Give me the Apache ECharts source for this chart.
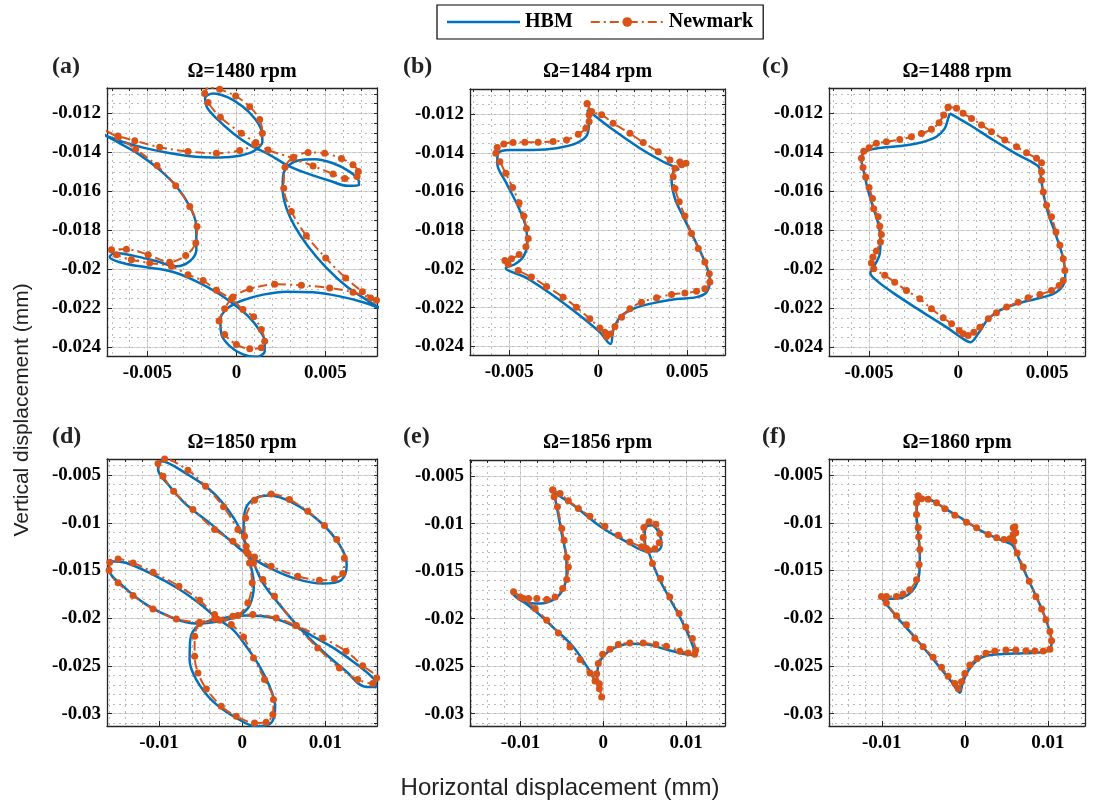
<!DOCTYPE html>
<html><head><meta charset="utf-8">
<script src="https://cdn.jsdelivr.net/npm/echarts@6/dist/echarts.min.js"></script>
<style>html,body{margin:0;padding:0;background:#fff}#c{width:1095px;height:807px}</style>
</head><body><div id="c"></div>
<script>
// ---------------- DATA (mm) ----------------
const panelTitles = ['Ω=1480 rpm','Ω=1484 rpm','Ω=1488 rpm','Ω=1850 rpm','Ω=1856 rpm','Ω=1860 rpm'];
const panelLetters = ['(a)','(b)','(c)','(d)','(e)','(f)'];
const seriesNames = ['HBM','Newmark'];

const xTicksTop = [-0.005, 0, 0.005];
const yTicksTop = [-0.024, -0.022, -0.02, -0.018, -0.016, -0.014, -0.012];
const xTicksBottom = [-0.01, 0, 0.01];
const yTicksBottom = [-0.03, -0.025, -0.02, -0.015, -0.01, -0.005];

const xLimits = [[-0.00727,0.0079],[-0.0072,0.00712],[-0.00725,0.00712],[-0.01625,0.0162],[-0.0161,0.0147],[-0.01635,0.01446]];
const yLimits = [[-0.02445,-0.0107],[-0.02445,-0.0107],[-0.02445,-0.0107],[-0.0313,-0.0033],[-0.0313,-0.0033],[-0.0313,-0.0033]];

const hbmA = [[-0.00749,-0.01308],[-0.00655,-0.01342],[-0.00524,-0.01376],[-0.00393,-0.01401],[-0.00243,-0.01422],[-0.00094,-0.01427],[0.00019,-0.01418],[0.00103,-0.01391],[0.00146,-0.01345],[0.0014,-0.01285],[0.00103,-0.01226],[0.00037,-0.01166],[-0.00047,-0.01118],[-0.00131,-0.01098],[-0.00176,-0.01123],[-0.00165,-0.01169],[-0.00112,-0.01226],[-0.00019,-0.01302],[0.00075,-0.01362],[0.00187,-0.01413],[0.00281,-0.01464],[0.00393,-0.01507],[0.00524,-0.01546],[0.00627,-0.01572],[0.00689,-0.01569],[0.00684,-0.01538],[0.00627,-0.01494],[0.00543,-0.01456],[0.0044,-0.01435],[0.00346,-0.01442],[0.00287,-0.01473],[0.00262,-0.01524],[0.0026,-0.01592],[0.00281,-0.01686],[0.00328,-0.0178],[0.00403,-0.01883],[0.00506,-0.01993],[0.00618,-0.02087],[0.0073,-0.02156],[0.00815,-0.02203],[0.00712,-0.02169],[0.00581,-0.02139],[0.00431,-0.02118],[0.00281,-0.02115],[0.0015,-0.0213],[0.00037,-0.02159],[-0.00047,-0.02198],[-0.0009,-0.02258],[-0.00084,-0.02335],[-0.00037,-0.02394],[0.00037,-0.02437],[0.00112,-0.02449],[0.00159,-0.0242],[0.00159,-0.02369],[0.00127,-0.02309],[0.00075,-0.02249],[0,-0.0219],[-0.00112,-0.02118],[-0.00225,-0.02062],[-0.00337,-0.02019],[-0.00431,-0.01999],[-0.00543,-0.01985],[-0.00655,-0.01964],[-0.00712,-0.01937],[-0.00684,-0.01917],[-0.00581,-0.0193],[-0.00449,-0.01959],[-0.00337,-0.01985],[-0.00262,-0.01959],[-0.00225,-0.019],[-0.00225,-0.01831],[-0.00228,-0.01763],[-0.00262,-0.01678],[-0.00333,-0.01579],[-0.00431,-0.0149],[-0.00543,-0.01413],[-0.00655,-0.01354],[-0.00749,-0.01308]];
const newmarkA = [[-0.00745,-0.01285],[-0.00665,-0.01316],[-0.00571,-0.0134],[-0.00431,-0.01374],[-0.00272,-0.01396],[-0.00112,-0.01405],[0.00019,-0.01391],[0.00103,-0.01359],[0.00146,-0.01302],[0.00131,-0.01231],[0.00075,-0.01166],[-0.00004,-0.01111],[-0.00094,-0.01077],[-0.00154,-0.01067],[-0.00178,-0.01098],[-0.00159,-0.01145],[-0.0009,-0.0122],[0.00028,-0.01302],[0.00109,-0.0135],[0.00178,-0.01388],[0.00318,-0.0143],[0.00431,-0.0147],[0.00543,-0.01511],[0.00609,-0.01534],[0.00678,-0.01524],[0.00685,-0.01499],[0.00655,-0.01464],[0.0059,-0.01432],[0.00496,-0.01405],[0.00403,-0.01401],[0.00322,-0.01425],[0.00273,-0.01476],[0.00266,-0.01584],[0.00309,-0.01703],[0.00393,-0.01828],[0.00502,-0.01942],[0.00614,-0.02045],[0.00708,-0.02115],[0.00787,-0.02159],[0.00815,-0.02169],[0.00754,-0.02147],[0.00655,-0.02118],[0.00524,-0.02096],[0.00365,-0.02082],[0.00215,-0.02077],[0.00075,-0.02101],[-0.00019,-0.02142],[-0.00066,-0.02203],[-0.00097,-0.02266],[-0.00066,-0.02335],[0,-0.02386],[0.00075,-0.02408],[0.0014,-0.02403],[0.00159,-0.02369],[0.0014,-0.02309],[0.00097,-0.02244],[0.00037,-0.02207],[-0.00028,-0.02152],[-0.00112,-0.02108],[-0.00187,-0.02058],[-0.00272,-0.02028],[-0.00365,-0.01985],[-0.00487,-0.01968],[-0.0059,-0.01951],[-0.00674,-0.01925],[-0.00702,-0.019],[-0.00618,-0.01897],[-0.00496,-0.01925],[-0.00375,-0.01964],[-0.00285,-0.0193],[-0.00228,-0.01865],[-0.00221,-0.0178],[-0.00262,-0.01678],[-0.00341,-0.01572],[-0.00446,-0.01468],[-0.00566,-0.01384],[-0.00665,-0.01323],[-0.00745,-0.01285]];

const hbmB = [[-0.00037,-0.01195],[0.00084,-0.01281],[0.00234,-0.01376],[0.00365,-0.01446],[0.00436,-0.01475],[0.00451,-0.01485],[0.00425,-0.01492],[0.00412,-0.01541],[0.00431,-0.01636],[0.00478,-0.01731],[0.00543,-0.01852],[0.00599,-0.01964],[0.00627,-0.02059],[0.00609,-0.0212],[0.00552,-0.02146],[0.0044,-0.02156],[0.00309,-0.02177],[0.00197,-0.02206],[0.00122,-0.0225],[0.00084,-0.02319],[0.00069,-0.02388],[0.00009,-0.02327],[-0.00103,-0.02241],[-0.00253,-0.02137],[-0.00403,-0.02046],[-0.00519,-0.01995],[-0.00468,-0.01976],[-0.00421,-0.01938],[-0.00399,-0.01869],[-0.00406,-0.01783],[-0.00449,-0.01679],[-0.00515,-0.01558],[-0.00567,-0.01454],[-0.00562,-0.01402],[-0.00496,-0.01385],[-0.00365,-0.01385],[-0.00234,-0.01376],[-0.00122,-0.0135],[-0.00062,-0.01307],[-0.00051,-0.01229],[-0.0006,-0.01178],[-0.00037,-0.01195]];
const newmarkB = [[-0.00062,-0.01146],[-0.00037,-0.01186],[0.00019,-0.01203],[0.00084,-0.01247],[0.00178,-0.01299],[0.00253,-0.01347],[0.00337,-0.01394],[0.00403,-0.01437],[0.00459,-0.01447],[0.00493,-0.01454],[0.00468,-0.01461],[0.00431,-0.0148],[0.00421,-0.01523],[0.00431,-0.01584],[0.00455,-0.01653],[0.00487,-0.01727],[0.00524,-0.01817],[0.00562,-0.01895],[0.00599,-0.01964],[0.00624,-0.02025],[0.00627,-0.02068],[0.00599,-0.02103],[0.00552,-0.02116],[0.00487,-0.02125],[0.00412,-0.02132],[0.00328,-0.02149],[0.00243,-0.02172],[0.00178,-0.02206],[0.00131,-0.0225],[0.00094,-0.02298],[0.00069,-0.02336],[0.00047,-0.0235],[0.00037,-0.02327],[0.00009,-0.02305],[-0.00047,-0.02258],[-0.00122,-0.02198],[-0.00197,-0.02146],[-0.0029,-0.02091],[-0.00375,-0.02042],[-0.00449,-0.02008],[-0.00506,-0.01976],[-0.00524,-0.01956],[-0.00487,-0.01947],[-0.00444,-0.01925],[-0.00406,-0.01886],[-0.00393,-0.01843],[-0.00403,-0.01791],[-0.00418,-0.01727],[-0.00444,-0.01658],[-0.00481,-0.01579],[-0.00519,-0.01506],[-0.00552,-0.01446],[-0.00575,-0.01402],[-0.00567,-0.01373],[-0.0053,-0.01354],[-0.00478,-0.01347],[-0.00412,-0.01345],[-0.00337,-0.01345],[-0.00253,-0.01342],[-0.00178,-0.01333],[-0.00112,-0.01304],[-0.00069,-0.01273],[-0.00051,-0.01238],[-0.00051,-0.01203],[-0.00062,-0.01146]];

const hbmC = [[-0.00047,-0.012],[0.00066,-0.0126],[0.00197,-0.01337],[0.00328,-0.01409],[0.00449,-0.01471],[0.00463,-0.01517],[0.00478,-0.01611],[0.00506,-0.01714],[0.00549,-0.01826],[0.0059,-0.01946],[0.00601,-0.02031],[0.00586,-0.02088],[0.00534,-0.02126],[0.0044,-0.02151],[0.00328,-0.02177],[0.00234,-0.02211],[0.00169,-0.02254],[0.00112,-0.02331],[0.00069,-0.02374],[0.00028,-0.02357],[-0.00066,-0.02297],[-0.00215,-0.02211],[-0.00365,-0.02121],[-0.00459,-0.02057],[-0.00493,-0.02019],[-0.00474,-0.01989],[-0.0044,-0.0192],[-0.00436,-0.01851],[-0.00449,-0.01766],[-0.00478,-0.0168],[-0.00506,-0.01594],[-0.0053,-0.015],[-0.00543,-0.01437],[-0.00524,-0.01397],[-0.00459,-0.0138],[-0.00328,-0.01368],[-0.00215,-0.01351],[-0.00122,-0.0132],[-0.00075,-0.01277],[-0.00056,-0.01226],[-0.00047,-0.012]];
const newmarkC = [[-0.00056,-0.01169],[-0.00009,-0.01174],[0.00028,-0.012],[0.00075,-0.01226],[0.00131,-0.0126],[0.00187,-0.01294],[0.00262,-0.01337],[0.00328,-0.01371],[0.00384,-0.01402],[0.0044,-0.01431],[0.00468,-0.01454],[0.00468,-0.015],[0.00468,-0.01543],[0.00478,-0.01603],[0.00496,-0.01671],[0.00524,-0.01731],[0.00549,-0.01809],[0.00571,-0.01877],[0.0059,-0.01946],[0.00599,-0.02006],[0.0059,-0.02057],[0.00567,-0.02083],[0.00524,-0.02109],[0.00459,-0.02129],[0.00393,-0.02146],[0.00337,-0.02169],[0.00272,-0.02194],[0.00215,-0.02223],[0.00169,-0.02254],[0.00122,-0.02297],[0.00088,-0.02323],[0.00056,-0.0234],[0.00028,-0.02331],[0.00006,-0.02314],[-0.00037,-0.0228],[-0.00084,-0.02249],[-0.0015,-0.02203],[-0.00215,-0.02151],[-0.0029,-0.02109],[-0.00356,-0.02066],[-0.00412,-0.02031],[-0.00474,-0.01997],[-0.00487,-0.01968],[-0.00478,-0.01937],[-0.00459,-0.01906],[-0.00436,-0.0186],[-0.00431,-0.01821],[-0.0044,-0.01779],[-0.00449,-0.01731],[-0.00474,-0.01689],[-0.00481,-0.01637],[-0.005,-0.01581],[-0.00519,-0.01526],[-0.00534,-0.01478],[-0.00543,-0.01431],[-0.0053,-0.01394],[-0.005,-0.01377],[-0.00459,-0.01354],[-0.00403,-0.01346],[-0.00328,-0.01334],[-0.00262,-0.0132],[-0.00206,-0.01303],[-0.0015,-0.01282],[-0.00107,-0.01248],[-0.00081,-0.01209],[-0.00056,-0.01169]];

const hbmD = [[0.00068,-0.01332],[0.00016,-0.01105],[0.00028,-0.00895],[0.00128,-0.00755],[0.00328,-0.00713],[0.00608,-0.0079],[0.00928,-0.00983],[0.01168,-0.01227],[0.01256,-0.01437],[0.01188,-0.01601],[0.00968,-0.01636],[0.00648,-0.01587],[0.00328,-0.01472],[0.0008,-0.01343],[-0.00112,-0.0121],[-0.00392,-0.01],[-0.00672,-0.00808],[-0.00872,-0.00615],[-0.01012,-0.00434],[-0.00972,-0.00353],[-0.00672,-0.00483],[-0.00392,-0.0065],[-0.00172,-0.0086],[-0.00024,-0.0107],[0.00068,-0.0128],[0.0012,-0.01385],[0.00248,-0.01629],[0.00448,-0.01857],[0.00688,-0.02101],[0.00968,-0.02346],[0.01248,-0.02556],[0.01488,-0.0272],[0.01608,-0.0272],[0.01588,-0.02643],[0.01408,-0.02504],[0.01128,-0.02329],[0.00848,-0.02189],[0.00648,-0.02091],[0.00368,-0.01997],[0.00048,-0.01972],[-0.00272,-0.02007],[-0.00512,-0.02066],[-0.00624,-0.02224],[-0.00632,-0.02434],[-0.00552,-0.02643],[-0.00352,-0.02871],[-0.00072,-0.03045],[0.00168,-0.03133],[0.00348,-0.03098],[0.00396,-0.02923],[0.00328,-0.02713],[0.00208,-0.02504],[0.00048,-0.02294],[-0.00112,-0.02119],[-0.00312,-0.01997],[-0.00472,-0.01874],[-0.00752,-0.01699],[-0.01072,-0.01542],[-0.01392,-0.0142],[-0.01592,-0.01402],[-0.016,-0.0149],[-0.01432,-0.01664],[-0.01152,-0.01857],[-0.00832,-0.01997],[-0.00552,-0.02056],[-0.00272,-0.02031],[-0.00052,-0.01979],[0.00088,-0.01867],[0.0014,-0.01647],[0.00096,-0.0142],[0.00068,-0.01332]];
const newmarkD = [[0.00068,-0.01322],[0.00028,-0.0114],[0.0004,-0.00948],[0.00148,-0.00762],[0.00348,-0.00696],[0.00568,-0.00755],[0.00788,-0.00878],[0.00988,-0.01028],[0.01136,-0.01175],[0.01228,-0.01367],[0.01208,-0.01531],[0.01108,-0.01587],[0.00928,-0.01601],[0.00668,-0.01559],[0.00348,-0.01455],[0.00148,-0.01357],[0.00048,-0.01297],[-0.00112,-0.01192],[-0.00332,-0.0107],[-0.00592,-0.0086],[-0.00824,-0.00668],[-0.00952,-0.0051],[-0.01012,-0.00378],[-0.00932,-0.00329],[-0.00652,-0.00448],[-0.0044,-0.00615],[-0.00224,-0.00832],[-0.00052,-0.0107],[0.00048,-0.01245],[0.00136,-0.0142],[0.00248,-0.01594],[0.00388,-0.01769],[0.00648,-0.02077],[0.00908,-0.02311],[0.01168,-0.02521],[0.01388,-0.02643],[0.01568,-0.02685],[0.01616,-0.02626],[0.01448,-0.02497],[0.01248,-0.02346],[0.00968,-0.02206],[0.00648,-0.02077],[0.00408,-0.01997],[0.00128,-0.01962],[-0.00112,-0.01979],[-0.00332,-0.02007],[-0.00512,-0.02056],[-0.00572,-0.02189],[-0.00572,-0.02399],[-0.00532,-0.02573],[-0.00432,-0.02741],[-0.00252,-0.02923],[-0.00072,-0.03028],[0.00148,-0.03098],[0.00288,-0.03091],[0.00368,-0.0301],[0.00376,-0.02853],[0.00268,-0.02643],[0.00136,-0.02416],[0.00016,-0.02196],[-0.00132,-0.02066],[-0.00332,-0.01962],[-0.00512,-0.01811],[-0.0076,-0.01664],[-0.01072,-0.01517],[-0.01312,-0.0142],[-0.01492,-0.01378],[-0.01592,-0.01413],[-0.016,-0.01497],[-0.01492,-0.01629],[-0.01312,-0.01762],[-0.01072,-0.01902],[-0.00792,-0.02007],[-0.00512,-0.02042],[-0.00272,-0.02021],[-0.00052,-0.01972],[0.00068,-0.01839],[0.0012,-0.01629],[0.00088,-0.0142],[0.00068,-0.01322]];

const hbmE = [[-0.00594,-0.00676],[-0.00361,-0.00805],[-0.0004,-0.01027],[0.00281,-0.01192],[0.00522,-0.0129],[0.00651,-0.01287],[0.00703,-0.01227],[0.00675,-0.01104],[0.00582,-0.01016],[0.00502,-0.01051],[0.00502,-0.01192],[0.00554,-0.01315],[0.00663,-0.0156],[0.00803,-0.01789],[0.00944,-0.02017],[0.01064,-0.02245],[0.01116,-0.02386],[0.01004,-0.02375],[0.00763,-0.02326],[0.00522,-0.0227],[0.00321,-0.02263],[0.00141,-0.02305],[0.00008,-0.02386],[-0.0006,-0.02491],[-0.00088,-0.02649],[-0.00181,-0.02526],[-0.00361,-0.02298],[-0.00602,-0.02094],[-0.00843,-0.01904],[-0.01092,-0.01743],[-0.00964,-0.01824],[-0.00763,-0.01841],[-0.00582,-0.01789],[-0.00482,-0.01683],[-0.00442,-0.01508],[-0.00454,-0.01315],[-0.00502,-0.01104],[-0.00554,-0.00858],[-0.00594,-0.00676]];
const newmarkE = [[-0.0061,-0.00647],[-0.00522,-0.00683],[-0.00422,-0.0076],[-0.00301,-0.00841],[-0.00161,-0.00921],[0.0002,-0.01027],[0.00181,-0.01121],[0.00321,-0.01192],[0.00462,-0.01244],[0.00522,-0.01262],[0.00482,-0.01146],[0.0049,-0.01041],[0.00554,-0.00981],[0.00635,-0.01006],[0.00683,-0.01104],[0.00675,-0.01202],[0.00622,-0.01265],[0.00542,-0.01279],[0.00594,-0.0142],[0.00691,-0.01578],[0.00803,-0.01771],[0.00916,-0.01947],[0.00996,-0.02087],[0.01076,-0.0221],[0.01116,-0.02333],[0.01104,-0.02375],[0.01024,-0.02361],[0.00924,-0.02343],[0.00763,-0.02291],[0.00635,-0.02273],[0.00482,-0.02256],[0.00321,-0.02256],[0.00181,-0.02273],[0.0008,-0.02322],[-0.00008,-0.02375],[-0.0006,-0.02473],[-0.0008,-0.02579],[-0.00048,-0.02684],[-0.0002,-0.02824],[-0.00048,-0.02737],[-0.001,-0.02656],[-0.00161,-0.02572],[-0.00281,-0.02431],[-0.00402,-0.02298],[-0.00542,-0.0215],[-0.00683,-0.02017],[-0.00823,-0.01894],[-0.00964,-0.01789],[-0.01084,-0.01718],[-0.01004,-0.01771],[-0.00904,-0.01789],[-0.00803,-0.01789],[-0.00683,-0.01799],[-0.00582,-0.01771],[-0.0049,-0.01683],[-0.00442,-0.01588],[-0.00422,-0.01455],[-0.00442,-0.01357],[-0.00474,-0.01174],[-0.00502,-0.01051],[-0.00554,-0.00823],[-0.00594,-0.00718],[-0.0061,-0.00647]];

const hbmF = [[-0.00562,-0.00735],[-0.00422,-0.00753],[-0.00221,-0.00858],[-0.0002,-0.00963],[0.00181,-0.01076],[0.00382,-0.0116],[0.00522,-0.01209],[0.00582,-0.01244],[0.00663,-0.01402],[0.00783,-0.01631],[0.00904,-0.01859],[0.01004,-0.02087],[0.01044,-0.02256],[0.01016,-0.02333],[0.00924,-0.02357],[0.00703,-0.02368],[0.00462,-0.02375],[0.00261,-0.02393],[0.00141,-0.02445],[0.0004,-0.02551],[-0.00028,-0.02684],[-0.0006,-0.02782],[-0.00161,-0.02666],[-0.00341,-0.02473],[-0.00582,-0.0222],[-0.00823,-0.01982],[-0.01004,-0.01788],[-0.00924,-0.01796],[-0.00803,-0.01794],[-0.00683,-0.01754],[-0.00594,-0.01666],[-0.0055,-0.01543],[-0.00542,-0.0135],[-0.00558,-0.01139],[-0.00582,-0.00911],[-0.00574,-0.00788],[-0.00562,-0.00735]];
const newmarkF = [[-0.00562,-0.00718],[-0.00522,-0.00746],[-0.00442,-0.00753],[-0.00341,-0.00788],[-0.00241,-0.00851],[-0.0012,-0.00921],[0.0002,-0.00992],[0.00141,-0.01051],[0.00281,-0.01121],[0.00382,-0.01157],[0.0047,-0.01174],[0.00542,-0.01167],[0.00582,-0.01121],[0.00582,-0.01051],[0.00602,-0.01041],[0.00614,-0.01104],[0.0059,-0.01192],[0.0063,-0.01315],[0.00703,-0.01462],[0.00775,-0.01613],[0.00855,-0.01771],[0.00924,-0.01904],[0.00976,-0.02017],[0.01024,-0.0214],[0.01044,-0.02235],[0.01024,-0.02326],[0.00944,-0.02343],[0.00843,-0.02343],[0.00735,-0.0234],[0.00614,-0.02333],[0.00494,-0.02333],[0.00361,-0.02343],[0.00253,-0.02368],[0.00149,-0.02421],[0.0006,-0.02491],[0,-0.02579],[-0.0004,-0.02666],[-0.0008,-0.02737],[-0.0012,-0.02684],[-0.00201,-0.02607],[-0.00281,-0.02515],[-0.00382,-0.0241],[-0.00502,-0.02298],[-0.00602,-0.0221],[-0.00703,-0.02069],[-0.00823,-0.01975],[-0.00944,-0.01841],[-0.01004,-0.01771],[-0.00944,-0.01771],[-0.00823,-0.01771],[-0.00743,-0.01746],[-0.00663,-0.01701],[-0.00582,-0.01595],[-0.0055,-0.01437],[-0.00542,-0.01279],[-0.00554,-0.01146],[-0.00562,-0.01051],[-0.00582,-0.00911],[-0.00582,-0.00788],[-0.00562,-0.00718]];

// ---------------- LAYOUT / STYLE ----------------
const hbmSets = [hbmA, hbmB, hbmC, hbmD, hbmE, hbmF];
const newmarkSets = [newmarkA, newmarkB, newmarkC, newmarkD, newmarkE, newmarkF];
const grids = [
  {left:107, top:88, width:270, height:268},
  {left:470, top:89, width:255, height:266},
  {left:829, top:88, width:256, height:268},
  {left:107, top:459, width:270, height:267},
  {left:470, top:460, width:255, height:266},
  {left:829, top:459, width:256, height:267}
];
const BLUE = '#0072BD', ORANGE = '#D95319', AX = '#262626';
const SERIF = '"Liberation Serif","Times New Roman",serif';
const SANS = '"Liberation Sans",Arial,sans-serif';

function stepList(lo, hi, step) {
  const out = [];
  const n0 = Math.ceil(lo / step - 1e-9), n1 = Math.floor(hi / step + 1e-9);
  for (let k = n0; k <= n1; k++) out.push(Math.round(k * step * 1e7) / 1e7);
  return out;
}
const fmt = v => String(Math.round(v * 1e6) / 1e6);

const xAxes = [], yAxes = [], series = [], graphics = [];
for (let i = 0; i < 6; i++) {
  const top = i < 3;
  const xMaj = top ? xTicksTop : xTicksBottom;
  const yMaj = top ? yTicksTop : yTicksBottom;
  const xMin = stepList(xLimits[i][0], xLimits[i][1], top ? 0.001 : 0.002);
  const yMin = stepList(yLimits[i][0], yLimits[i][1], top ? 0.0005 : 0.001);
  const lineCfg = {show:true, onZero:false, lineStyle:{color:AX, width:1.3}};
  const labelCfg = {color:'#000', fontFamily:SERIF, fontWeight:'bold', fontSize:19, formatter:fmt};
  xAxes.push({type:'value', gridIndex:i, min:xLimits[i][0], max:xLimits[i][1], position:'bottom',
    axisLine:lineCfg, axisTick:{show:true, inside:true, length:5, customValues:xMaj, lineStyle:{color:AX}},
    axisLabel:Object.assign({customValues:xMaj, margin:8}, labelCfg),
    splitLine:{show:true, lineStyle:{color:'#d6d6d6', width:1}}});
  xAxes.push({type:'value', gridIndex:i, min:xLimits[i][0], max:xLimits[i][1], position:'top',
    axisLine:lineCfg, axisTick:{show:true, inside:true, length:3, customValues:xMin, lineStyle:{color:AX}},
    axisLabel:{show:false},
    splitLine:{show:true, lineStyle:{color:'#bababa', width:1, type:[2,4]}}});
  yAxes.push({type:'value', gridIndex:i, min:yLimits[i][0], max:yLimits[i][1], position:'left',
    axisLine:lineCfg, axisTick:{show:true, inside:true, length:5, customValues:yMaj, lineStyle:{color:AX}},
    axisLabel:Object.assign({customValues:yMaj, margin:6}, labelCfg),
    splitLine:{show:true, lineStyle:{color:'#d6d6d6', width:1}}});
  yAxes.push({type:'value', gridIndex:i, min:yLimits[i][0], max:yLimits[i][1], position:'right',
    axisLine:lineCfg, axisTick:{show:true, inside:true, length:3, customValues:yMin, lineStyle:{color:AX}},
    axisLabel:{show:false},
    splitLine:{show:true, lineStyle:{color:'#bababa', width:1, type:[2,4]}}});

  series.push({type:'line', name:seriesNames[0], xAxisIndex:2*i, yAxisIndex:2*i, data:hbmSets[i],
    symbol:'none', showSymbol:false, smooth:0.35, clip:true,
    lineStyle:{color:BLUE, width:2.5}, itemStyle:{color:BLUE}, z:3, silent:true});
  series.push({type:'line', name:seriesNames[1], xAxisIndex:2*i, yAxisIndex:2*i, data:newmarkSets[i],
    symbol:'circle', symbolSize:7, showSymbol:true, smooth:0.3, clip:true,
    lineStyle:{color:ORANGE, width:2, type:[9,4,2,4]}, itemStyle:{color:ORANGE}, z:4, silent:true});

  const g = grids[i];
  graphics.push({type:'text', x:g.left + g.width/2, y:(top ? 72 : 443),
    style:{text:panelTitles[i], font:'bold 20px ' + SERIF, fill:'#000', textAlign:'center', textVerticalAlign:'middle'}});
  const lx = [52, 403, 762][i % 3];
  graphics.push({type:'text', x:lx, y:(top ? 67 : 437),
    style:{text:panelLetters[i], font:'bold 24px ' + SERIF, fill:'#222', textAlign:'left', textVerticalAlign:'middle'}});
}
graphics.push({type:'text', x:560, y:788,
  style:{text:'Horizontal displacement (mm)', font:'24px ' + SANS, fill:'#222', textAlign:'center', textVerticalAlign:'middle'}});
graphics.push({type:'text', x:22, y:410, rotation:Math.PI/2,
  style:{text:'Vertical displacement (mm)', font:'21px ' + SANS, fill:'#222', textAlign:'center', textVerticalAlign:'middle'}});

const chart = echarts.init(document.getElementById('c'), null, {renderer:'canvas'});
chart.setOption({
  animation:false,
  backgroundColor:'#fff',
  grid: grids,
  xAxis: xAxes,
  yAxis: yAxes,
  legend: {
    data:[{name:seriesNames[0], icon:'path://M0 0H100V3.4H0Z', itemStyle:{color:BLUE}}, seriesNames[1]],
    left:437, top:5, itemWidth:73, itemHeight:12, itemGap:17, symbolKeepAspect:true,
    borderColor:'#000', borderWidth:1.2, padding:[7,10,7,10], backgroundColor:'#fff',
    textStyle:{fontFamily:SERIF, fontWeight:'bold', fontSize:20, color:'#000'}},
  series: series,
  graphic: graphics
});
</script>
</body></html>
